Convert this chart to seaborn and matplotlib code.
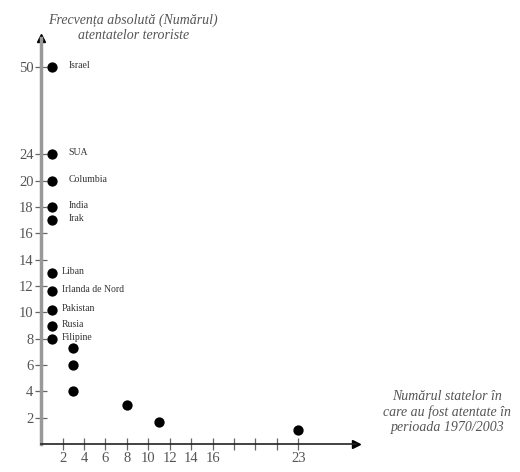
import numpy as np
import pandas as pd
import matplotlib
matplotlib.use("Agg")
import matplotlib.pyplot as plt
import seaborn as sns

# numarul statelor (x) si frecventa atentatelor (y)
nr_state = [1, 1, 1, 1, 1, 1, 1, 1, 1, 1, 3, 3, 3, 8, 11, 23]
frecventa = [50, 24, 20, 18, 17, 13, 11.6, 10.2, 9, 8, 7.3, 6, 4, 3, 1.7, 1.1]
tari = ["Israel", "SUA", "Columbia", "India", "Irak", "Liban",
        "Irlanda de Nord", "Pakistan", "Rusia", "Filipine",
        "", "", "", "", "", ""]

y_ticks = [2, 4, 6, 8, 10, 12, 14, 16, 18, 20, 24, 50]
x_ticks = [2, 4, 6, 8, 10, 12, 14, 16, 18, 20, 22, 23]
x_tick_labels = ["2", "4", "6", "8", "10", "12", "14", "16", "", "", "", "23"]

df = pd.DataFrame({"x": nr_state, "y": frecventa, "tara": tari})

# axele nu sunt liniare in original -> scale pe bucati
y_in, y_out = [0, 20, 24, 60], [0, 20, 22, 31.14]
x_in, x_out = [0, 22, 23, 30], [0, 22, 24, 31]


def y_fwd(v):
    return np.interp(v, y_in, y_out)


def y_inv(v):
    return np.interp(v, y_out, y_in)


def x_fwd(v):
    return np.interp(v, x_in, x_out)


def x_inv(v):
    return np.interp(v, x_out, x_in)


sns.set_theme(style="white")
plt.rcParams["font.family"] = ["Liberation Serif", "DejaVu Serif"]

fig = plt.figure(figsize=(5.2, 4.72), dpi=100)
ax = fig.add_axes([0.079, 0.059, 0.606, 0.86])
ax.set_xscale("function", functions=(x_fwd, x_inv))
ax.set_yscale("function", functions=(y_fwd, y_inv))

sns.scatterplot(data=df, x="x", y="y", color="black", s=55,
                edgecolor="black", linewidth=0, ax=ax, zorder=5, clip_on=False)

for _, r in df.iterrows():
    if r["tara"] == "":
        continue
    dx = 12 if r["y"] >= 16.5 else 7
    ax.annotate(r["tara"], (r["x"], r["y"]), xytext=(dx, 1),
                textcoords="offset points", fontsize=7, va="center",
                color="#333333")

ax.set_xlim(0, 28.4)
ax.set_ylim(0, 58.7)
ax.set_xticks(x_ticks)
ax.set_xticklabels(x_tick_labels)
ax.set_yticks(y_ticks)
ax.set_yticklabels([str(t) for t in y_ticks])
ax.tick_params(axis="both", which="major", bottom=True, left=True,
               direction="inout", length=9, width=0.9,
               labelsize=10.5, labelcolor="#555555", color="#666666", pad=1)
ax.set_xlabel("")
ax.set_ylabel("")

for s in ["top", "right"]:
    ax.spines[s].set_visible(False)
ax.spines["left"].set_color("#999999")
ax.spines["left"].set_linewidth(2.5)
ax.spines["bottom"].set_color("#222222")
ax.spines["bottom"].set_linewidth(1.2)

# sagetile de la capatul axelor
ax.plot(1, 0, ">", color="black", markersize=6, transform=ax.transAxes, clip_on=False)
ax.plot(0, 1, "^", color="black", markersize=6, transform=ax.transAxes, clip_on=False)

fig.text(0.256, 0.912, "Frecvența absolută (Numărul)\natentatelor teroriste",
         ha="center", va="bottom", fontsize=10, style="italic",
         color="#555555", linespacing=1.2)
fig.text(0.86, 0.127, "Numărul statelor în\ncare au fost atentate în\nperioada 1970/2003",
         ha="center", va="center", fontsize=10, style="italic",
         color="#555555", linespacing=1.2)

fig.savefig("out.png", dpi=100)
